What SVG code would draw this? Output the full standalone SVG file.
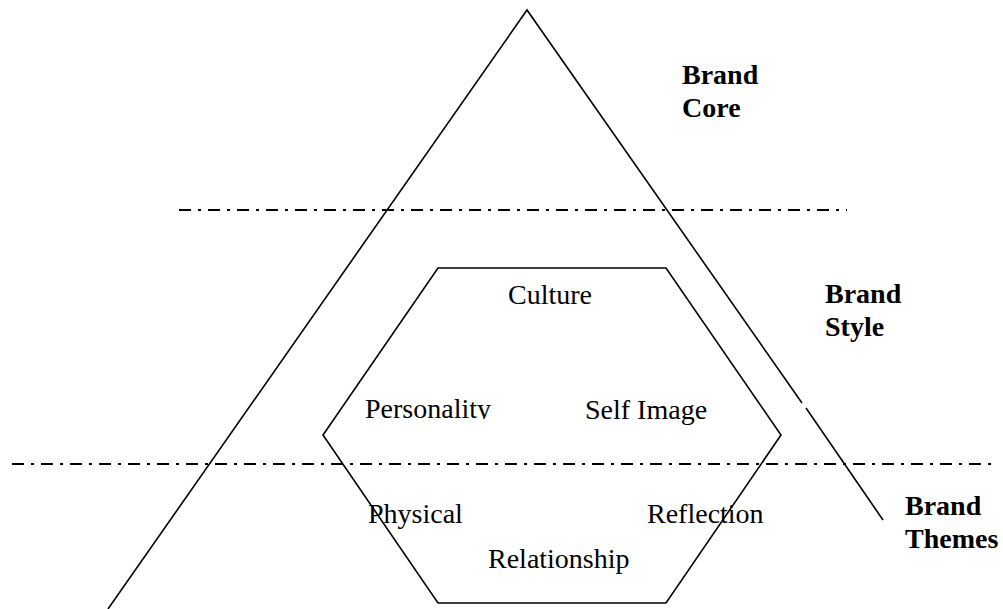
<svg xmlns="http://www.w3.org/2000/svg" width="1003" height="609" viewBox="0 0 1003 609">
<style>
.ln{fill:none;stroke:#000;stroke-width:1.6}
.dd{fill:none;stroke:#000;stroke-width:2.2;stroke-dasharray:12 7 3 7}
.t{font-family:"Liberation Serif","Times New Roman",serif;font-size:28px;fill:#000}
.b{font-family:"Liberation Serif","Times New Roman",serif;font-size:28px;font-weight:bold;fill:#000}
</style>
<defs>
<clipPath id="clipPers"><rect x="300" y="380" width="250" height="39"/></clipPath>
</defs>
<rect width="1003" height="609" fill="#fff"/>
<g id="connectors">
<path class="ln" d="M108,609 L527,10 L802,403"/>
<path class="ln" d="M806,408 L883,520"/>
<path class="dd" d="M179,210 H847"/>
<path class="dd" d="M12,464 H991"/>
</g>
<g id="hexagon">
<polygon class="ln" points="438,268 666,268 781,435 666,603 438,603 323,435"/>
</g>
<g id="culture"><text class="t" x="508" y="304">Culture</text></g>
<g id="personality"><text class="t" x="365" y="418" clip-path="url(#clipPers)">Personality</text></g>
<g id="selfimage"><text class="t" x="585" y="419">Self Image</text></g>
<g id="physical"><text class="t" x="368" y="523">Physical</text></g>
<g id="reflection"><text class="t" x="647" y="523">Reflection</text></g>
<g id="relationship"><text class="t" x="488" y="568">Relationship</text></g>
<g id="brandcore"><text class="b" x="682" y="84">Brand</text><text class="b" x="682" y="117">Core</text></g>
<g id="brandstyle"><text class="b" x="825" y="303">Brand</text><text class="b" x="825" y="336">Style</text></g>
<g id="brandthemes"><text class="b" x="905" y="515">Brand</text><text class="b" x="905" y="548">Themes</text></g>
</svg>
